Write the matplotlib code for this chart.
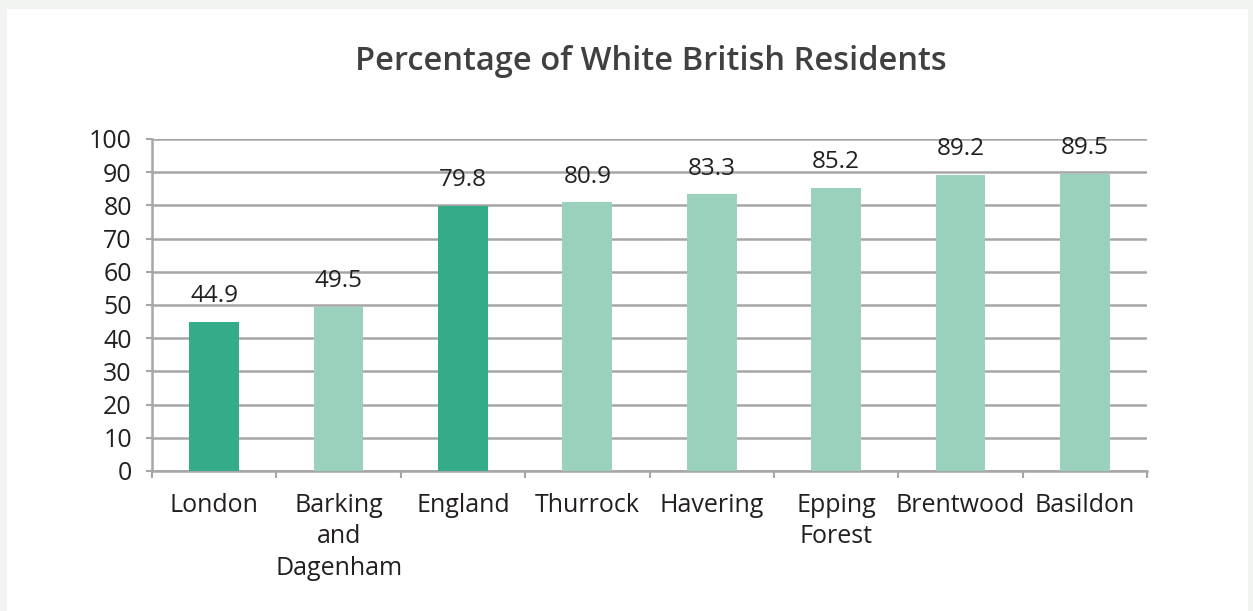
import matplotlib.pyplot as plt
from matplotlib.patches import Rectangle

areas = ["London", "Barking\nand\nDagenham", "England", "Thurrock",
         "Havering", "Epping\nForest", "Brentwood", "Basildon"]
pct = [44.9, 49.5, 79.8, 80.9, 83.3, 85.2, 89.2, 89.5]
highlight = [True, False, True, False, False, False, False, False]

dark = "#35ac89"
light = "#9ad1bd"
grid_col = "#a6a6a6"
txt = "#231f20"

plt.rcParams['font.family'] = ['Open Sans', 'DejaVu Sans']

fig = plt.figure(figsize=(12.53, 6.11), dpi=100)
fig.patch.set_facecolor("#f2f4f2")
# white card behind the chart
fig.patches.append(Rectangle((7 / 1253, 0), 1241 / 1253, 602 / 611,
                             transform=fig.transFigure, facecolor="white",
                             edgecolor="none", zorder=-5))

ax = fig.add_axes([152 / 1253, 1 - 471 / 611, 995 / 1253, 332 / 611])
ax.set_facecolor("none")
ax.set_zorder(2)

x = range(len(areas))
colors = [dark if h else light for h in highlight]
ax.bar(x, pct, width=0.4, color=colors, zorder=3)

for i, v in enumerate(pct):
    ax.annotate(f"{v}", (i, v), xytext=(0, 10), textcoords="offset points",
                ha="center", va="bottom", fontsize=17.5, color=txt)

ax.set_xlim(-0.5, len(areas) - 0.5)
ax.set_ylim(0, 100)
ax.set_yticks(range(0, 101, 10))
ax.tick_params(axis="y", labelsize=18, colors=grid_col, labelcolor=txt,
               length=4.5, width=1.5, pad=10)
ax.yaxis.grid(True, color=grid_col, linewidth=1.8, zorder=0)

ax.set_xticks(x)
ax.set_xticklabels(areas, fontsize=18, color=txt, linespacing=1.33)
ax.tick_params(axis="x", length=0, pad=16)
ax.set_xticks([i - 0.5 for i in range(len(areas) + 1)], minor=True)
ax.tick_params(axis="x", which="minor", length=5, width=1.5, color=grid_col)

for s in ["top", "right"]:
    ax.spines[s].set_visible(False)
for s in ["left", "bottom"]:
    ax.spines[s].set_color(grid_col)
    ax.spines[s].set_linewidth(1.8)

fig.text(651 / 1253, 1 - 62 / 611, "Percentage of White British Residents",
         ha="center", va="center", fontsize=23.5, fontweight="semibold",
         color="#404040")

fig.savefig("out.png", dpi=100, facecolor=fig.get_facecolor())
